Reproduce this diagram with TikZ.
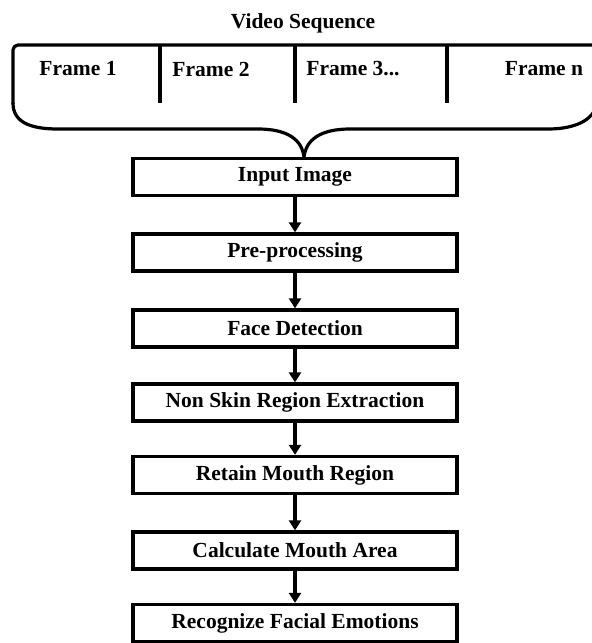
\documentclass[tikz,border=0pt]{standalone}
\usepackage{fontspec}
\setmainfont{Liberation Serif}
\usetikzlibrary{arrows.meta}
\tikzset{
  stepbox/.style={draw=black, line width=3.3pt, minimum width=324pt, minimum height=37pt, inner sep=0pt,
    font=\fontsize{21.5}{24}\selectfont\bfseries},
  lbl/.style={inner sep=0pt, font=\fontsize{21.5}{24}\selectfont\bfseries},
  flow/.style={line width=3.2pt, -{Triangle[width=12pt,length=10pt]}},
  bracel/.style={line width=3.2pt, line join=round},
}
\begin{document}
\begin{tikzpicture}[x=1pt,y=-1pt]
\useasboundingbox (0,0) rectangle (592,643);
% title and frames
\node[lbl] (title) at (303,23) {Video Sequence};
\node[lbl] (f1) at (78,69) {Frame 1};
\node[lbl] (f2) at (211,69) {Frame 2};
\node[lbl] (f3) at (353,69) {Frame 3...};
\node[lbl] (fn) at (544,69) {Frame n};
% brace
\draw[bracel, rounded corners=5pt] (597,100) -- (597,45) -- (13,45) -- (13,104);
\draw[bracel] (13,103) .. controls (13,121) and (28,129) .. (58,129) -- (258,129)
  .. controls (288,129) and (302,140) .. (304,157)
  .. controls (306,140) and (320,129) .. (350,129) -- (548,129)
  .. controls (578,129) and (597,118) .. (597,100);
\coordinate (d1t) at (160,45); \coordinate (d1b) at (160,103);
\coordinate (d2t) at (295,45); \coordinate (d2b) at (295,103);
\coordinate (d3t) at (447,45); \coordinate (d3b) at (447,103);
\draw[bracel] (d1t) -- (d1b);
\draw[bracel] (d2t) -- (d2b);
\draw[bracel] (d3t) -- (d3b);
% steps
\node[stepbox] (s1) at (295,177) {Input Image};
\node[stepbox] (s2) at (295,252.5) {Pre-processing};
\node[stepbox] (s3) at (295,328.5) {Face Detection};
\node[stepbox] (s4) at (295,402.5) {Non Skin Region Extraction};
\node[stepbox] (s5) at (295,475) {Retain Mouth Region};
\node[stepbox] (s6) at (295,550.5) {Calculate Mouth Area};
\node[stepbox] (s7) at (295,623) {Recognize Facial Emotions};
\draw[flow] (s1) -- (s2);
\draw[flow] (s2) -- (s3);
\draw[flow] (s3) -- (s4);
\draw[flow] (s4) -- (s5);
\draw[flow] (s5) -- (s6);
\draw[flow] (s6) -- (s7);
\end{tikzpicture}
\end{document}
